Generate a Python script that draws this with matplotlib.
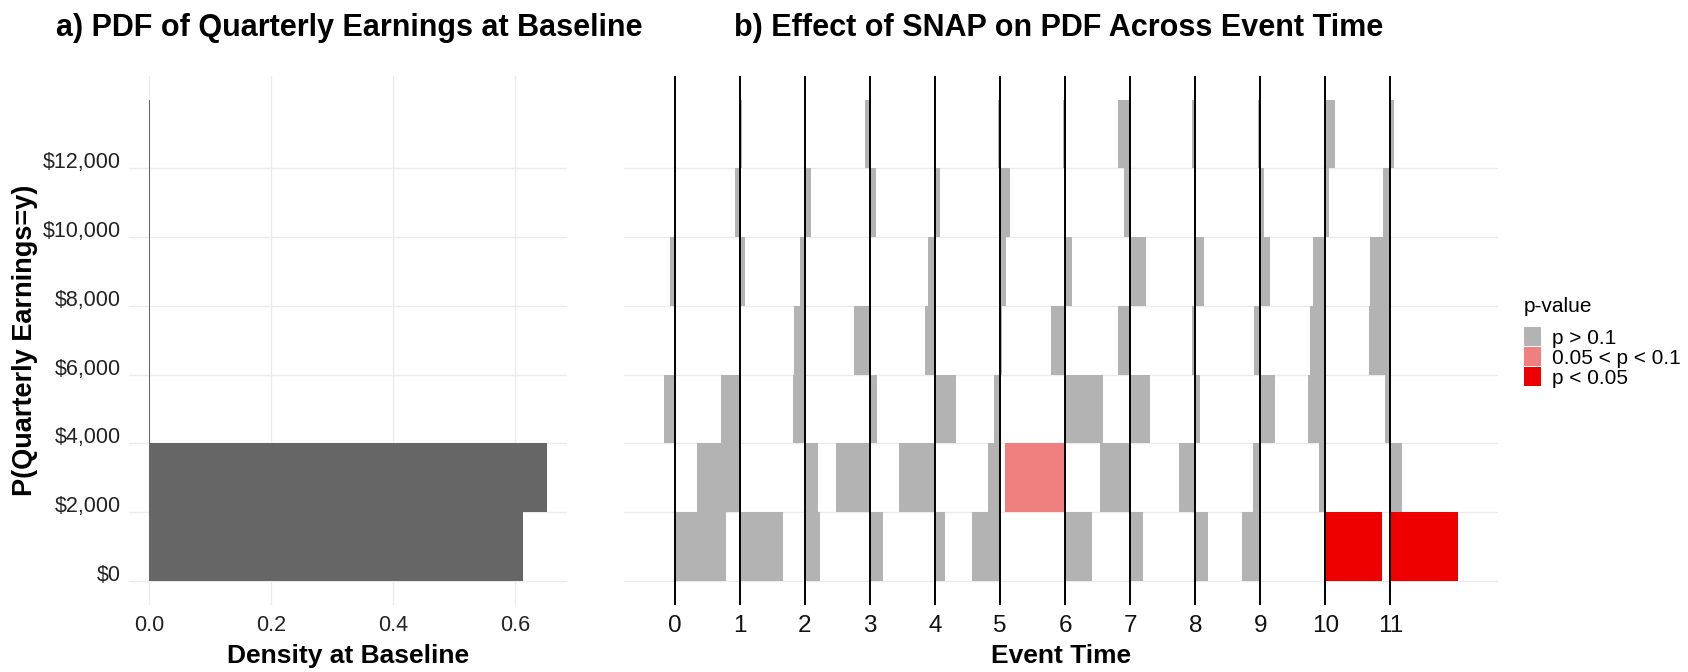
import matplotlib
matplotlib.use("Agg")
import matplotlib.pyplot as plt
from matplotlib.patches import Rectangle

plt.rcParams["font.family"] = ["Liberation Sans", "DejaVu Sans"]

# earnings bins (lower edges, $2,000 wide)
bin_lower = [0, 2000, 4000, 6000, 8000, 10000, 12000]
bin_width = 2000

# baseline density of quarterly earnings in each bin
baseline_density = [0.6125, 0.652, 0.002, 0.001, 0.001, 0.001, 0.001]

event_times = list(range(12))

# SNAP effect on each bin's probability (scaled to event-time units), rows = bins
snap_effect = [
    [0.79, 0.67, 0.23, 0.20, 0.16, -0.43, 0.42, 0.20, 0.19, -0.28, 0.865, 1.044],
    [0.00, -0.66, 0.20, -0.52, -0.55, -0.18, -0.93, -0.46, -0.25, -0.11, -0.09, 0.18],
    [-0.17, -0.29, -0.18, 0.11, 0.32, -0.10, 0.59, 0.31, 0.07, 0.22, -0.27, -0.08],
    [0.00, 0.00, -0.16, -0.24, -0.15, 0.03, -0.21, -0.18, -0.05, -0.10, -0.24, -0.33],
    [-0.08, 0.08, -0.07, -0.01, -0.10, 0.09, 0.10, 0.25, 0.14, 0.15, -0.19, -0.32],
    [0.00, -0.08, 0.09, 0.09, 0.07, 0.15, 0.01, -0.10, -0.02, 0.05, 0.05, -0.11],
    [0.00, 0.04, 0.00, -0.07, 0.00, -0.03, -0.03, -0.18, -0.05, -0.04, 0.15, 0.05],
]

# significance class of each estimate: 0 = p > 0.1, 1 = 0.05 < p < 0.1, 2 = p < 0.05
pvalue_class = [
    [0, 0, 0, 0, 0, 0, 0, 0, 0, 0, 2, 2],
    [0, 0, 0, 0, 0, 0, 1, 0, 0, 0, 0, 0],
    [0] * 12,
    [0] * 12,
    [0] * 12,
    [0] * 12,
    [0] * 12,
]

pvalue_labels = ["p > 0.1", "0.05 < p < 0.1", "p < 0.05"]
pvalue_colors = ["#B3B3B3", "#F08080", "#EE0000"]

W, H = 1688, 672
fig = plt.figure(figsize=(W / 100, H / 100), dpi=100)


def fx(px):
    return px / W


def fy(px):
    return 1 - px / H


grid_kw = dict(color="#EBEBEB", linewidth=1.0)
bottom = fy(605)
height = (605 - 75.7) / H

ymax = bin_lower[-1] + bin_width
ylim = (-0.05 * ymax, 1.05 * ymax)
yticks = bin_lower

# ---- panel a: baseline pdf ----
ax_a = fig.add_axes([fx(129.3), bottom, fx(567 - 129.3), height])
ax_a.barh(bin_lower, baseline_density, height=bin_width, align="edge",
          color="#666666", zorder=2)
dmax = max(baseline_density)
ax_a.set_xlim(-0.05 * dmax, 1.05 * dmax)
ax_a.set_ylim(*ylim)
ax_a.set_xticks([0.0, 0.2, 0.4, 0.6])
ax_a.set_xticklabels(["0.0", "0.2", "0.4", "0.6"])
ax_a.set_yticks(yticks)
ax_a.set_yticklabels([f"${v:,}" for v in yticks])
for lbl in ax_a.get_yticklabels():
    lbl.set_verticalalignment("baseline")
ax_a.grid(True, **grid_kw)
ax_a.set_axisbelow(True)
ax_a.tick_params(length=0, labelsize=15.5, labelcolor="#222222")
ax_a.tick_params(axis="x", pad=7)
ax_a.tick_params(axis="y", pad=6)
ax_a.set_xlabel("Density at Baseline", fontsize=19, fontweight="bold", labelpad=6)
for s in ax_a.spines.values():
    s.set_visible(False)

# ---- panel b: effect of SNAP by event time ----
ax_b = fig.add_axes([fx(624), bottom, fx(1498 - 624), height])
lo, hi = 0.0, 0.0
for i, y0 in enumerate(bin_lower):
    for j, t in enumerate(event_times):
        eff = snap_effect[i][j]
        ax_b.barh(y0, eff, left=t, height=bin_width, align="edge",
                  color=pvalue_colors[pvalue_class[i][j]], zorder=2)
        lo = min(lo, t + eff, t)
        hi = max(hi, t + eff, t)
for t in event_times:
    ax_b.axvline(t, color="black", linewidth=1.4, zorder=3)
pad = 0.05 * (hi - lo)
ax_b.set_xlim(lo - pad, hi + pad)
ax_b.set_ylim(*ylim)
ax_b.set_xticks(event_times)
ax_b.set_xticklabels([str(t) for t in event_times])
ax_b.set_yticks(yticks)
ax_b.set_yticklabels([])
ax_b.grid(True, axis="y", **grid_kw)
ax_b.set_axisbelow(True)
ax_b.tick_params(length=0, labelsize=17.5, labelcolor="#111111")
ax_b.tick_params(axis="x", pad=7)
ax_b.set_xlabel("Event Time", fontsize=19, fontweight="bold", labelpad=5)
for s in ax_b.spines.values():
    s.set_visible(False)

# titles and y label
fig.text(fx(56), fy(36), "a) PDF of Quarterly Earnings at Baseline",
         fontsize=22, fontweight="bold", va="baseline", ha="left")
fig.text(fx(1059), fy(36), "b) Effect of SNAP on PDF Across Event Time",
         fontsize=22, fontweight="bold", va="baseline", ha="center")
fig.text(fx(25), fy(340), "P(Quarterly Earnings=y)", rotation=90,
         fontsize=19.5, fontweight="bold", va="center", ha="center")

# legend for p-value classes
fig.text(fx(1524), fy(312.5), "p-value", fontsize=15, va="baseline", ha="left")
key_top, key_w, key_h, key_step = 326.5, 16.5, 19.0, 20.2
for k, (lab, col) in enumerate(zip(pvalue_labels, pvalue_colors)):
    top = key_top + k * key_step
    fig.patches.append(Rectangle((fx(1524.3), fy(top + key_h)), fx(key_w), key_h / H,
                                 transform=fig.transFigure, facecolor=col,
                                 edgecolor="none"))
    fig.text(fx(1552.5), fy(top + key_h / 2), lab, fontsize=15,
             va="center_baseline", ha="left")

fig.savefig("out.png", dpi=100)
